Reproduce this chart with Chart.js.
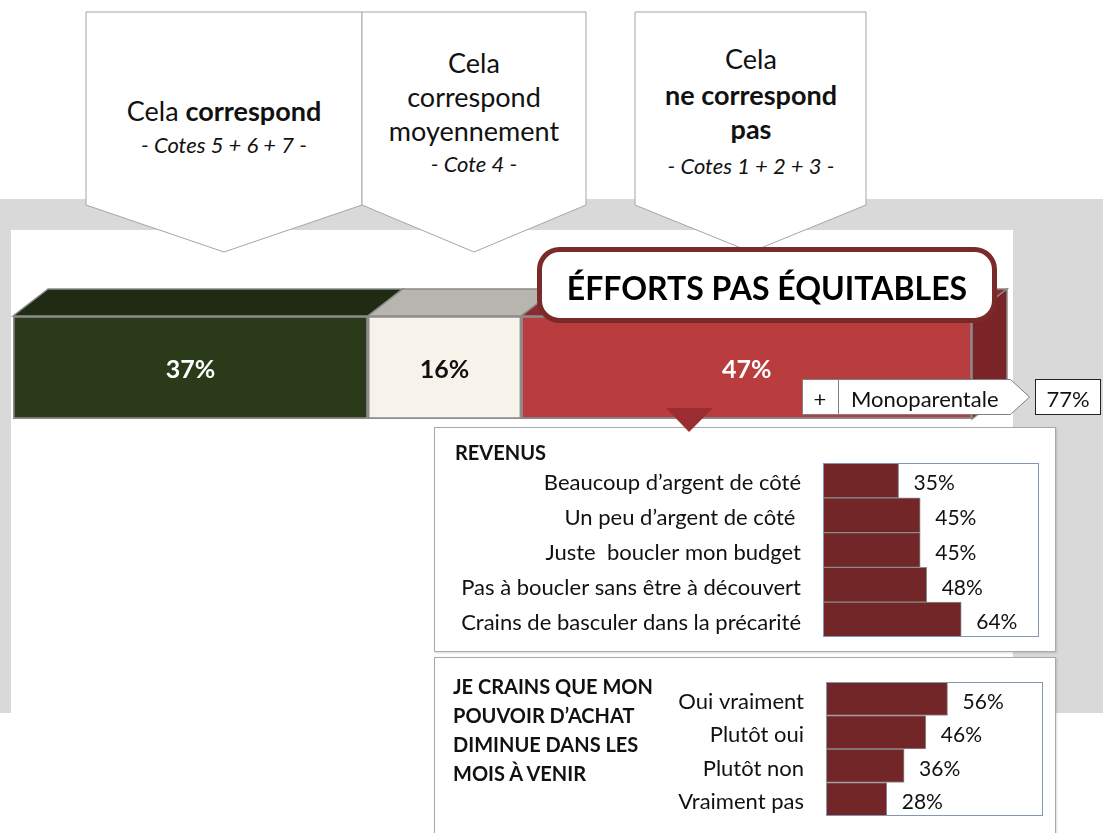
<!DOCTYPE html>
<html>
<head>
<meta charset="utf-8">
<script src="https://cdn.jsdelivr.net/npm/chart.js@4.4.1/dist/chart.umd.min.js"></script>
<style>
html, body { margin: 0; padding: 0; background: #fff; }
body { width: 1103px; height: 833px; position: relative; overflow: hidden; font-family: Lato, 'Open Sans', sans-serif; }
svg, canvas, .box { position: absolute; }
.box { background: #fff; border: 1px solid #a9a9a9; box-shadow: 1px 1px 2px rgba(0,0,0,0.15); box-sizing: border-box; }
.boxTitle { position: absolute; font-weight: bold; font-size: 20px; color: #111; line-height: 29px; }
</style>
</head>
<body>

<svg width="1103" height="833" style="left:0;top:0">
  <rect x="0" y="199" width="1103" height="514" fill="#d9d9d9"/>
  <rect x="11" y="230" width="1002" height="483" fill="#fff"/>
  <g fill="#fff" stroke="#a6a6a6" stroke-width="1">
    <polygon points="86,12 362,12 362,205 224,252 86,205"/>
    <polygon points="362,12 586,12 586,205 474,252 362,205"/>
    <polygon points="635,12 866,12 866,205 751,252 635,205"/>
  </g>
  <g font-family="Lato, sans-serif" fill="#111" text-anchor="middle" dominant-baseline="central">
    <text x="224" y="110" font-size="27">Cela <tspan font-weight="bold">correspond</tspan></text>
    <text x="224" y="144" font-size="22" font-style="italic">- Cotes 5 + 6 + 7 -</text>
    <text x="474" y="62" font-size="27">Cela</text>
    <text x="474" y="96" font-size="27">correspond</text>
    <text x="474" y="130" font-size="27">moyennement</text>
    <text x="474" y="163" font-size="22" font-style="italic">- Cote 4 -</text>
    <text x="751" y="58" font-size="27">Cela</text>
    <text x="751" y="94" font-size="27" font-weight="bold">ne correspond</text>
    <text x="751" y="128" font-size="27" font-weight="bold">pas</text>
    <text x="751" y="165" font-size="22" font-style="italic">- Cotes 1 + 2 + 3 -</text>
  </g>
</svg>

<canvas id="mainBar" width="1013" height="150" style="left:0;top:280px"></canvas>

<div class="box" style="left:434px;top:427px;width:622px;height:225px">
  <div class="boxTitle" style="left:20px;top:10px">REVENUS</div>
</div>
<div class="box" style="left:434px;top:657px;width:622px;height:190px">
  <div class="boxTitle" style="left:18px;top:14px">JE CRAINS QUE MON<br>POUVOIR D’ACHAT<br>DIMINUE DANS LES<br>MOIS À VENIR</div>
</div>
<canvas id="revenus" width="621" height="224" style="left:434px;top:427px"></canvas>
<canvas id="pouvoir" width="621" height="176" style="left:434px;top:657px"></canvas>

<svg width="1103" height="833" style="left:0;top:0;pointer-events:none">
  <rect x="539.5" y="249.5" width="455" height="71" rx="20" ry="20" fill="#fff" stroke="#7b2a2a" stroke-width="5"/>
  <text x="767" y="287" font-family="Lato, sans-serif" font-weight="bold" font-size="32" fill="#000" text-anchor="middle" dominant-baseline="central">ÉFFORTS PAS ÉQUITABLES</text>
  <polygon points="666,408 713,408 689,432" fill="#9b2d30"/>
  <g stroke="#7f7f7f" stroke-width="1" fill="#fff">
    <rect x="802.5" y="379.5" width="36" height="35"/>
    <polygon points="838.5,379.5 1010.5,379.5 1029.5,397 1010.5,414.5 838.5,414.5"/>
  </g>
  <rect x="1035.5" y="379.5" width="65" height="35" fill="#fff" stroke="#222" stroke-width="1"/>
  <g font-family="Lato, sans-serif" font-size="22" fill="#111" dominant-baseline="central">
    <text x="820" y="398" text-anchor="middle">+</text>
    <text x="851" y="398" id="monoText"></text>
    <text x="1068" y="398" text-anchor="middle" id="monoValue"></text>
  </g>
</svg>

<script>
const mainCategory = ['Efforts pas équitables'];
const mainSeries = ['Cela correspond', 'Cela correspond moyennement', 'Cela ne correspond pas'];
const mainValues = [37, 16, 47];

const revenusLabels = ['Beaucoup d’argent de côté', 'Un peu d’argent de côté ', 'Juste  boucler mon budget', 'Pas à boucler sans être à découvert', 'Crains de basculer dans la précarité'];
const revenusValues = [35, 45, 45, 48, 64];

const pouvoirLabels = ['Oui vraiment', 'Plutôt oui', 'Plutôt non', 'Vraiment pas'];
const pouvoirValues = [56, 46, 36, 28];

const monoLabel = 'Monoparentale';
const monoValue = 77;

document.getElementById('monoText').textContent = monoLabel;
document.getElementById('monoValue').textContent = monoValue + '%';

const frontColors = ['#2b3a19', '#f7f3ea', '#b93c3f'];
const topColors = ['#1f2b12', '#b7b5ad', '#8c2a2d'];
const labelColors = ['#fff', '#111', '#fff'];
const sideColor = '#7a2428';
const dx = 35, dy = 27;

// top and right faces of the 3d bar
const bar3d = {
  id: 'bar3d',
  beforeDatasetsDraw(chart) {
    const ctx = chart.ctx;
    const n = chart.data.datasets.length;
    chart.data.datasets.forEach((ds, i) => {
      const b = chart.getDatasetMeta(i).data[0];
      const top = b.y - b.height / 2, bot = b.y + b.height / 2;
      ctx.save();
      ctx.strokeStyle = '#8a8a8a';
      ctx.lineWidth = 1.5;
      ctx.fillStyle = topColors[i];
      ctx.beginPath();
      ctx.moveTo(b.base, top);
      ctx.lineTo(b.base + dx, top - dy);
      ctx.lineTo(b.x + dx, top - dy);
      ctx.lineTo(b.x, top);
      ctx.closePath();
      ctx.fill();
      ctx.stroke();
      if (i === n - 1) {
        ctx.fillStyle = sideColor;
        ctx.beginPath();
        ctx.moveTo(b.x, top);
        ctx.lineTo(b.x + dx, top - dy);
        ctx.lineTo(b.x + dx, bot - dy);
        ctx.lineTo(b.x, bot);
        ctx.closePath();
        ctx.fill();
        ctx.stroke();
      }
      ctx.restore();
    });
  },
  afterDatasetsDraw(chart) {
    const ctx = chart.ctx;
    ctx.save();
    ctx.font = 'bold 25px Lato';
    ctx.textAlign = 'center';
    ctx.textBaseline = 'middle';
    chart.data.datasets.forEach((ds, i) => {
      const b = chart.getDatasetMeta(i).data[0];
      ctx.fillStyle = labelColors[i];
      ctx.fillText(ds.data[0] + '%', (b.base + b.x) / 2, b.y + 2);
    });
    ctx.restore();
  }
};

new Chart(document.getElementById('mainBar'), {
  type: 'bar',
  data: {
    labels: mainCategory,
    datasets: mainSeries.map((s, i) => ({
      label: s,
      data: [mainValues[i]],
      backgroundColor: frontColors[i],
      borderColor: '#8c8c8c',
      borderWidth: 2,
      borderSkipped: false,
      barPercentage: 1,
      categoryPercentage: 1
    }))
  },
  options: {
    indexAxis: 'y',
    responsive: false,
    animation: false,
    devicePixelRatio: 1,
    events: [],
    layout: { padding: { left: 13, right: 41, top: 36, bottom: 11 } },
    plugins: { legend: { display: false }, tooltip: { enabled: false } },
    scales: {
      x: { display: false, stacked: true, min: 0, max: 100 },
      y: { display: false, stacked: true }
    }
  },
  plugins: [bar3d]
});

const plotFrame = {
  id: 'plotFrame',
  afterDraw(chart) {
    const a = chart.chartArea, ctx = chart.ctx;
    ctx.save();
    ctx.strokeStyle = '#8497b0';
    ctx.lineWidth = 1;
    ctx.strokeRect(a.left + 0.5, a.top + 0.5, a.right - a.left - 1, a.bottom - a.top - 1);
    ctx.restore();
  }
};

const valueLabels = {
  id: 'valueLabels',
  afterDatasetsDraw(chart) {
    const ctx = chart.ctx;
    const ds = chart.data.datasets[0];
    ctx.save();
    ctx.font = '21px Lato';
    ctx.fillStyle = '#111';
    ctx.textAlign = 'left';
    ctx.textBaseline = 'middle';
    chart.getDatasetMeta(0).data.forEach((b, i) => {
      ctx.fillText(ds.data[i] + '%', b.x + 15, b.y + 3);
    });
    ctx.restore();
  }
};

function smallBar(id, labels, values, leftW, pad) {
  return new Chart(document.getElementById(id), {
    type: 'bar',
    data: {
      labels: labels,
      datasets: [{
        data: values,
        backgroundColor: '#722628',
        borderColor: '#8c8c8c',
        borderWidth: 1,
        borderSkipped: false,
        barPercentage: 1,
        categoryPercentage: 1
      }]
    },
    options: {
      indexAxis: 'y',
      responsive: false,
      animation: false,
      devicePixelRatio: 1,
      events: [],
      layout: { padding: pad },
      plugins: { legend: { display: false }, tooltip: { enabled: false } },
      scales: {
        x: { display: false, min: 0, max: 100 },
        y: {
          grid: { display: false, drawTicks: false },
          border: { display: false },
          ticks: { color: '#111', padding: 22, labelOffset: 3, autoSkip: false, font: { family: 'Lato', size: 22 } },
          afterFit(axis) {
            axis.width = leftW;
            axis.paddingTop = 0;
            axis.paddingBottom = 0;
          }
        }
      }
    },
    plugins: [plotFrame, valueLabels]
  });
}

smallBar('revenus', revenusLabels, revenusValues, 389, { left: 0, right: 16, top: 36, bottom: 14 });
smallBar('pouvoir', pouvoirLabels, pouvoirValues, 392, { left: 0, right: 12, top: 25, bottom: 17 });
</script>
</body>
</html>
